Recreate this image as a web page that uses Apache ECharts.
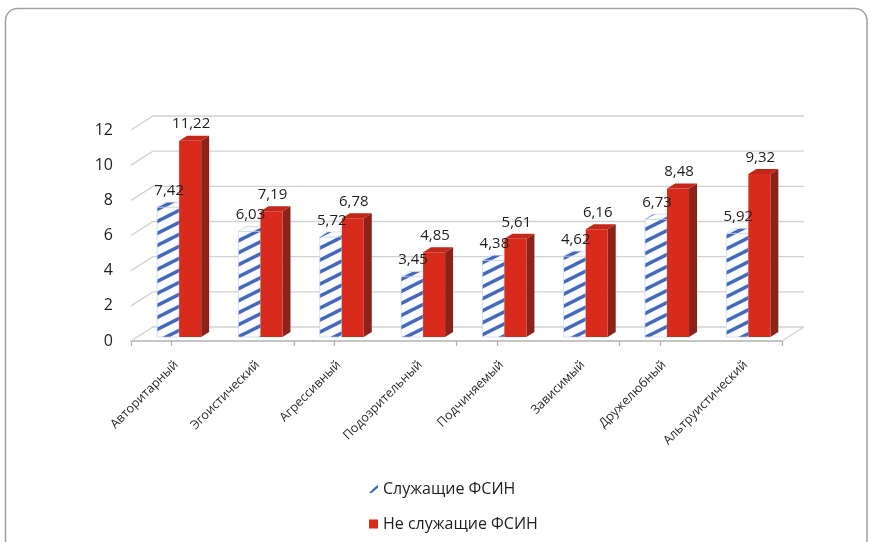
<!DOCTYPE html>
<html>
<head>
<meta charset="utf-8">
<script src="https://cdn.jsdelivr.net/npm/echarts@6/dist/echarts.min.js"></script>
<style>
  html, body { margin: 0; padding: 0; background: #ffffff; }
  #chart { width: 869px; height: 542px; }
</style>
</head>
<body>
<div id="chart"></div>
<script>
// Personality types and mean scores for the two groups
const categories = ['Авторитарный', 'Эгоистический', 'Агрессивный', 'Подозрительный',
                    'Подчиняемый', 'Зависимый', 'Дружелюбный', 'Альтруистический'];
const serviceStaff = [7.42, 6.03, 5.72, 3.45, 4.38, 4.62, 6.73, 5.92];
const nonServiceStaff = [11.22, 7.19, 6.78, 4.85, 5.61, 6.16, 8.48, 9.32];
const seriesNames = ['Служащие ФСИН', 'Не служащие ФСИН'];
const yTicks = [0, 2, 4, 6, 8, 10, 12];

// Drawing constants for the pseudo-3D look
const FONT = '"Open Sans", "Noto Sans", sans-serif';
const TEXT = '#1e1e1e';
const WALL_DX = 22, WALL_DY = -14;         // depth of the floor / back wall
const BAR_W = 22, BAR_DX = 8, BAR_DY = -5; // bar width and bar depth
const RED = '#d92b1c', RED_SIDE = '#8c2318', RED_TOP = '#c22819';
const BLUE = '#4468bd';
const GRID_COLOR = '#d2d2d2';
const AXIS_COLOR = '#b2b2b2';

function fmt(v) { return v.toFixed(2).replace('.', ','); }

// Diagonal hatch used on the first series
function makeHatch() {
  const c = document.createElement('canvas');
  c.width = 24; c.height = 12;
  const g = c.getContext('2d');
  g.fillStyle = '#fbfcff';
  g.fillRect(0, 0, 24, 12);
  g.strokeStyle = BLUE;
  g.lineWidth = 3.4;
  for (let k = -1; k <= 1; k++) {
    g.beginPath();
    g.moveTo(-4, 14 + k * 12);
    g.lineTo(28, -2 + k * 12);
    g.stroke();
  }
  return c;
}
const hatch = { image: makeHatch(), repeat: 'repeat' };

// Floor, left wall and back wall grid lines
function renderWalls(params, api) {
  const v = api.value(1);
  const y = api.coord([0, v])[1];
  const cs = params.coordSys;
  const x0 = cs.x, x1 = cs.x + cs.width;
  const style = { stroke: GRID_COLOR, lineWidth: 1.3, fill: null };
  const children = [{
    type: 'polyline',
    shape: { points: [[x0, y], [x0 + WALL_DX, y + WALL_DY], [x1 + WALL_DX, y + WALL_DY]] },
    style: style
  }];
  if (v === 0) {
    children.push({
      type: 'line',
      shape: { x1: x1, y1: y, x2: x1 + WALL_DX, y2: y + WALL_DY },
      style: style
    });
  }
  return { type: 'group', children: children, silent: true };
}

function box(xL, yTop, yBase, front, side, top, edge) {
  const xR = xL + BAR_W;
  return [
    {
      type: 'polygon',
      shape: { points: [[xR, yTop], [xR + BAR_DX, yTop + BAR_DY], [xR + BAR_DX, yBase + BAR_DY], [xR, yBase]] },
      style: { fill: side }
    },
    {
      type: 'rect',
      shape: { x: xL, y: yTop, width: BAR_W, height: yBase - yTop },
      style: { fill: front, stroke: edge, lineWidth: edge ? 0.6 : 0 }
    },
    {
      type: 'polygon',
      shape: { points: [[xL, yTop], [xR, yTop], [xR + BAR_DX, yTop + BAR_DY], [xL + BAR_DX, yTop + BAR_DY]] },
      style: { fill: top, stroke: edge, lineWidth: edge ? 0.6 : 0 }
    }
  ];
}

function renderBlue(params, api) {
  const i = api.value(0), v = api.value(1);
  const base = api.coord([i, 0]);
  const top = api.coord([i, v]);
  return {
    type: 'group',
    children: box(base[0] - BAR_W, top[1], base[1], hatch, hatch, hatch, '#c3cde6')
  };
}

function renderRed(params, api) {
  const i = api.value(0), v = api.value(1);
  const base = api.coord([i, 0]);
  const top = api.coord([i, v]);
  return {
    type: 'group',
    children: box(base[0], top[1], base[1], RED, RED_SIDE, RED_TOP, null)
  };
}

function labelRenderer(side) {
  return function (params, api) {
    const i = api.value(0), v = api.value(1);
    const top = api.coord([i, v]);
    const cx = top[0] + side * BAR_W / 2 + 1;
    return {
      type: 'text',
      x: cx,
      y: top[1] - 9,
      style: {
        text: fmt(v),
        fontFamily: FONT,
        fontSize: 15,
        fill: TEXT,
        align: 'center',
        verticalAlign: 'bottom'
      },
      silent: true
    };
  };
}

const chart = echarts.init(document.getElementById('chart'), null, { renderer: 'canvas' });

chart.setOption({
  animation: false,
  backgroundColor: '#ffffff',
  graphic: [{
    type: 'rect',
    shape: { x: 5.5, y: 8.5, width: 861.5, height: 600, r: 12 },
    style: { fill: null, stroke: '#a3a3a3', lineWidth: 1.5 },
    silent: true,
    z: 100
  }],
  legend: {
    orient: 'vertical',
    left: 364,
    top: 474,
    itemGap: 15,
    itemWidth: 9,
    itemHeight: 9,
    textStyle: { fontFamily: FONT, fontSize: 16, color: TEXT, lineHeight: 20 },
    data: [
      { name: seriesNames[0], icon: 'path://M0,9 L7,2 L10,0 L10,3 L3,9 Z', itemStyle: { color: BLUE } },
      { name: seriesNames[1], icon: 'rect', itemStyle: { color: RED } }
    ]
  },
  grid: [
    { left: 131, right: 87, top: 130, bottom: 201 },   // front plane (axes)
    { left: 138.5, right: 80, top: 127, bottom: 205 }  // plane of the bars
  ],
  xAxis: [
    {
      type: 'category', gridIndex: 0, data: categories,
      axisLine: { lineStyle: { color: AXIS_COLOR, width: 1.5 } },
      axisTick: { show: true, length: 5, lineStyle: { color: AXIS_COLOR, width: 1.3 } },
      axisLabel: { show: false }
    },
    {
      type: 'category', gridIndex: 0, data: categories, position: 'bottom',
      axisLine: { show: false },
      axisTick: { show: true, alignWithLabel: true, length: 5, lineStyle: { color: AXIS_COLOR, width: 1.3 } },
      axisLabel: { show: false }
    },
    {
      type: 'category', gridIndex: 1, data: categories,
      axisLine: { show: false },
      axisTick: { show: false },
      axisLabel: {
        interval: 0, rotate: 45, margin: 23, padding: [0, 4, 0, 0],
        fontFamily: FONT, fontSize: 12.5, color: '#2a2a2a'
      }
    }
  ],
  yAxis: [
    {
      type: 'value', gridIndex: 0, min: yTicks[0], max: yTicks[yTicks.length - 1], interval: 2,
      axisLine: { show: false }, axisTick: { show: false }, splitLine: { show: false },
      axisLabel: { margin: 18, fontFamily: FONT, fontSize: 16, color: TEXT }
    },
    {
      type: 'value', gridIndex: 1, min: yTicks[0], max: yTicks[yTicks.length - 1], interval: 2,
      axisLine: { show: false }, axisTick: { show: false }, splitLine: { show: false },
      axisLabel: { show: false }
    }
  ],
  series: [
    {
      type: 'custom', name: 'walls', xAxisIndex: 0, yAxisIndex: 0, z: 1,
      renderItem: renderWalls,
      data: yTicks.map(v => [0, v]),
      encode: { x: 0, y: 1 },
      silent: true
    },
    {
      type: 'custom', name: seriesNames[0], xAxisIndex: 2, yAxisIndex: 1, z: 2,
      itemStyle: { color: BLUE },
      renderItem: renderBlue,
      data: serviceStaff.map((v, i) => [i, v]),
      encode: { x: 0, y: 1 }
    },
    {
      type: 'custom', name: seriesNames[1], xAxisIndex: 2, yAxisIndex: 1, z: 3,
      itemStyle: { color: RED },
      renderItem: renderRed,
      data: nonServiceStaff.map((v, i) => [i, v]),
      encode: { x: 0, y: 1 }
    },
    {
      type: 'custom', name: 'labels1', xAxisIndex: 2, yAxisIndex: 1, z: 5,
      renderItem: labelRenderer(-1),
      data: serviceStaff.map((v, i) => [i, v]),
      encode: { x: 0, y: 1 },
      silent: true
    },
    {
      type: 'custom', name: 'labels2', xAxisIndex: 2, yAxisIndex: 1, z: 5,
      renderItem: labelRenderer(1),
      data: nonServiceStaff.map((v, i) => [i, v]),
      encode: { x: 0, y: 1 },
      silent: true
    }
  ]
});
</script>
</body>
</html>
